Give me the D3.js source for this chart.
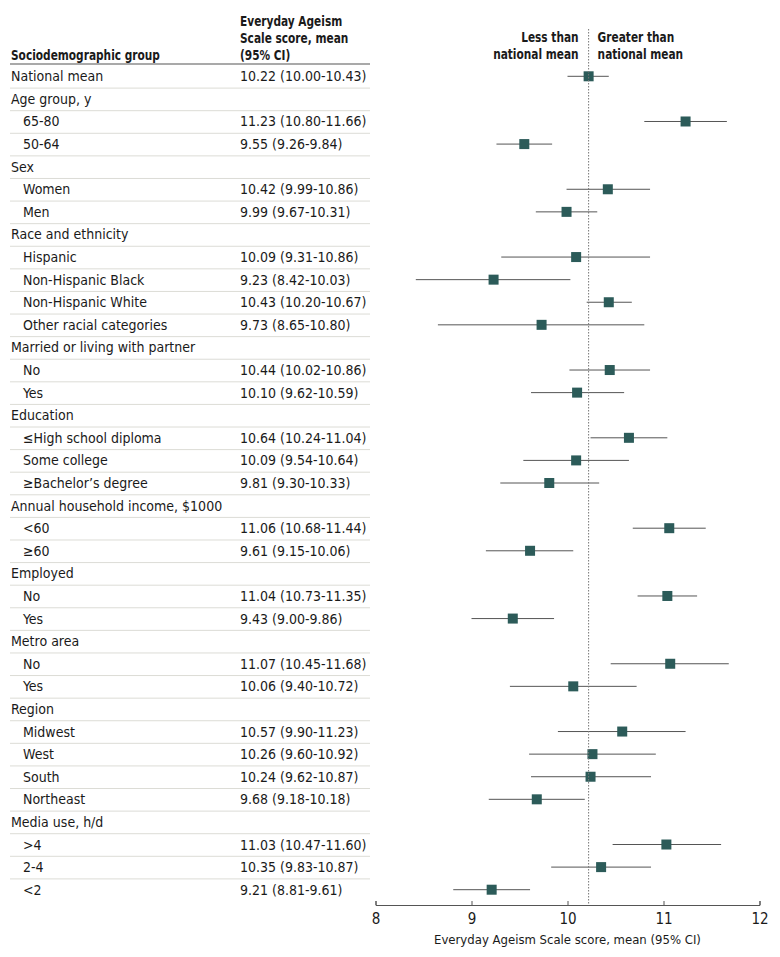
<!DOCTYPE html>
<html>
<head>
<meta charset="utf-8">
<script src="https://cdn.jsdelivr.net/npm/d3@7"></script>
<style>
  body { margin: 0; background: #fff; }
  text { font-family: "DejaVu Sans Condensed", "Liberation Sans Narrow", sans-serif; fill: #1a1a1a; }
</style>
</head>
<body>
<div id="here"></div>
<script>
   var w = 780, h = 957;

   // rows of the table; level 0 = group heading, 1 = subgroup
   var rowLabels = ['National mean', 'Age group, y', '65-80', '50-64', 'Sex', 'Women', 'Men',
     'Race and ethnicity', 'Hispanic', 'Non-Hispanic Black', 'Non-Hispanic White', 'Other racial categories',
     'Married or living with partner', 'No', 'Yes', 'Education', '\u2264High school diploma', 'Some college',
     '\u2265Bachelor\u2019s degree', 'Annual household income, $1000', '<60', '\u226560', 'Employed', 'No', 'Yes',
     'Metro area', 'No', 'Yes', 'Region', 'Midwest', 'West', 'South', 'Northeast', 'Media use, h/d', '>4', '2-4', '<2'];
   var rowLevel = [0, 0, 1, 1, 0, 1, 1, 0, 1, 1, 1, 1, 0, 1, 1, 0, 1, 1, 1, 0, 1, 1, 0, 1, 1, 0, 1, 1, 0, 1, 1, 1, 1, 0, 1, 1, 1];
   var means = [10.22, null, 11.23, 9.55, null, 10.42, 9.99, null, 10.09, 9.23, 10.43, 9.73, null, 10.44, 10.10,
     null, 10.64, 10.09, 9.81, null, 11.06, 9.61, null, 11.04, 9.43, null, 11.07, 10.06, null, 10.57, 10.26, 10.24, 9.68,
     null, 11.03, 10.35, 9.21];
   var ciLow = [10.00, null, 10.80, 9.26, null, 9.99, 9.67, null, 9.31, 8.42, 10.20, 8.65, null, 10.02, 9.62,
     null, 10.24, 9.54, 9.30, null, 10.68, 9.15, null, 10.73, 9.00, null, 10.45, 9.40, null, 9.90, 9.60, 9.62, 9.18,
     null, 10.47, 9.83, 8.81];
   var ciHigh = [10.43, null, 11.66, 9.84, null, 10.86, 10.31, null, 10.86, 10.03, 10.67, 10.80, null, 10.86, 10.59,
     null, 11.04, 10.64, 10.33, null, 11.44, 10.06, null, 11.35, 9.86, null, 11.68, 10.72, null, 11.23, 10.92, 10.87, 10.18,
     null, 11.60, 10.87, 9.61];
   var xTicks = [8, 9, 10, 11, 12];
   var nationalMean = 10.22;

   var rows = rowLabels.map(function(d, i) {
     return {label: d, level: rowLevel[i], mean: means[i], lo: ciLow[i], hi: ciHigh[i]};
   });

   var x = d3.scaleLinear().domain([8, 12]).range([375.5, 759.5]);
   var y = d3.scaleBand().domain(d3.range(rows.length)).range([65, 901]).padding(0);
   var bw = y.bandwidth();
   var fmt = d3.format('.2f');

   var svg = d3.select('#here').append('svg')
     .attr('width', w)
     .attr('height', h);

   // header (bold text squeezed to look like the narrow semibold original)
   var hd = svg.append('g').style('font-weight', 'bold').style('font-size', '14px');
   var heads = [
     {t: 'Sociodemographic group', x: 11, y: 60, a: 'start'},
     {t: 'Everyday Ageism', x: 240, y: 26, a: 'start'},
     {t: 'Scale score, mean', x: 240, y: 43, a: 'start'},
     {t: '(95% CI)', x: 240, y: 60, a: 'start'},
     {t: 'Less than', x: x(nationalMean) - 10, y: 42, a: 'end'},
     {t: 'national mean', x: x(nationalMean) - 10, y: 59, a: 'end'},
     {t: 'Greater than', x: x(nationalMean) + 9, y: 42, a: 'start'},
     {t: 'national mean', x: x(nationalMean) + 9, y: 59, a: 'start'}
   ];
   hd.selectAll('text')
     .data(heads)
     .enter().append('text')
     .attr('x', function(d) { return d.x; })
     .attr('y', function(d) { return d.y; })
     .attr('text-anchor', function(d) { return d.a; })
     .text(function(d) { return d.t; })
     .each(function() {
       var len = this.getComputedTextLength();
       d3.select(this).attr('textLength', len * 0.84).attr('lengthAdjust', 'spacingAndGlyphs');
     });

   svg.append('line')
     .attr('x1', 10).attr('x2', 370).attr('y1', 64).attr('y2', 64)
     .attr('stroke', '#555').attr('stroke-width', 1.2);

   // row separators
   svg.selectAll('.sep')
     .data(d3.range(1, rows.length))
     .enter().append('line')
     .attr('class', 'sep')
     .attr('x1', 10).attr('x2', 370)
     .attr('y1', function(i) { return y(i) + 0.5; })
     .attr('y2', function(i) { return y(i) + 0.5; })
     .attr('stroke', '#dcdcd6');

   var g = svg.selectAll('.row')
     .data(rows)
     .enter().append('g')
     .attr('class', 'row')
     .attr('transform', function(d, i) { return 'translate(0,' + (y(i) + bw / 2) + ')'; });

   g.append('text')
     .attr('x', function(d) { return d.level ? 23 : 11; })
     .attr('y', 5)
     .style('font-size', '14px')
     .text(function(d) { return d.label; });

   g.filter(function(d) { return d.mean != null; })
     .append('text')
     .attr('x', 240)
     .attr('y', 5)
     .style('font-size', '14px')
     .text(function(d) { return fmt(d.mean) + ' (' + fmt(d.lo) + '-' + fmt(d.hi) + ')'; });

   // national mean reference
   svg.append('line')
     .attr('x1', x(nationalMean)).attr('x2', x(nationalMean))
     .attr('y1', 29).attr('y2', 905)
     .attr('stroke', '#777').attr('stroke-dasharray', '1.5,1.5');

   var pts = g.filter(function(d) { return d.mean != null; });
   pts.append('line')
     .attr('x1', function(d) { return x(d.lo); })
     .attr('x2', function(d) { return x(d.hi); })
     .attr('stroke', '#555').attr('stroke-width', 1);
   pts.append('rect')
     .attr('x', function(d) { return x(d.mean) - 5; })
     .attr('y', -5)
     .attr('width', 10).attr('height', 10)
     .attr('fill', '#2c5b59');

   // axis
   var ax = svg.append('g')
     .attr('transform', 'translate(0,905)')
     .call(d3.axisTop(x).tickValues(xTicks).tickSize(4).tickFormat(d3.format('d')));
   ax.select('.domain').attr('stroke', '#555');
   ax.selectAll('.tick line').attr('stroke', '#555');
   ax.selectAll('.tick text')
     .attr('y', 19).attr('dy', 0)
     .style('font-size', '15px')
     .style('font-family', '"DejaVu Sans Condensed", sans-serif')
     .attr('fill', '#1a1a1a');

   svg.append('text')
     .attr('x', x(10)).attr('y', 944)
     .attr('text-anchor', 'middle')
     .style('font-size', '13px')
     .text('Everyday Ageism Scale score, mean (95% CI)');
</script>
</body>
</html>
